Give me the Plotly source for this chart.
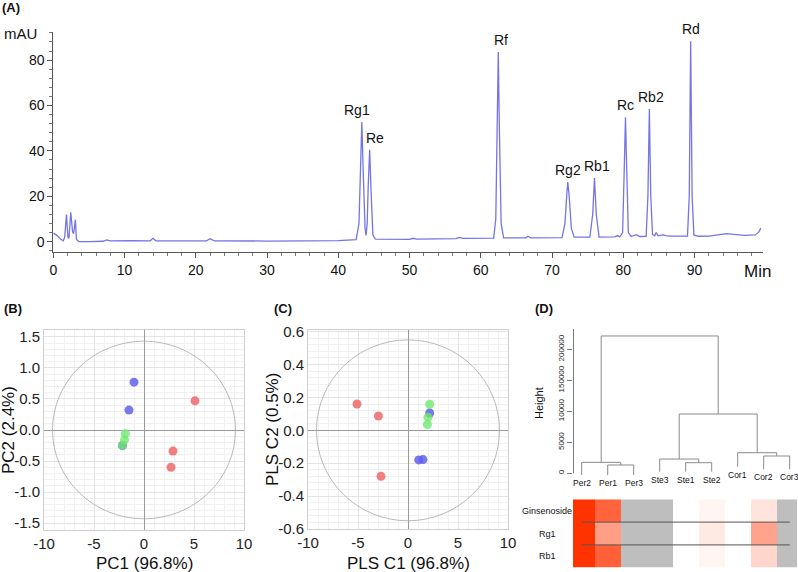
import plotly.graph_objects as go

W, H = 798, 572
def px_x(p): return p / W
def px_y(p): return 1 - p / H

FONT = "Arial, Liberation Sans, sans-serif"

# ---------------- (A) chromatogram ----------------
time_min = [0.0, 0.5, 1.0, 1.4, 1.6, 1.85, 2.05, 2.2, 2.45, 2.7, 2.85, 3.1, 3.25, 3.6, 5.0,
            7.0, 7.5, 8.0, 11.0, 13.6, 14.0, 14.4, 21.5, 22.0, 22.6, 30.0, 40.0, 42.5, 42.9,
            43.1, 43.3, 43.5, 43.75, 43.9, 44.05, 44.2, 44.4, 44.6, 44.85, 45.2, 50.0, 50.5,
            51.0, 56.5, 57.0, 57.5, 61.8, 62.1, 62.3, 62.45, 62.6, 62.85, 63.2, 66.3, 66.6,
            67.0, 71.4, 71.8, 72.05, 72.2, 72.4, 72.7, 73.1, 75.3, 75.7, 75.95, 76.2, 76.6,
            78.8, 79.2, 79.5, 79.9, 80.15, 80.3, 80.45, 80.7, 81.1, 81.8, 82.3, 83.2, 83.45,
            83.65, 83.85, 84.1, 84.4, 84.6, 84.9, 85.5, 86.0, 86.5, 89.0, 89.25, 89.45, 89.65,
            89.9, 90.5, 92.0, 94.5, 95.5, 97.0, 98.5, 99.0, 99.3]
absorbance = [3.8, 2.8, 1.2, 0.4, 2.0, 12.0, 2.0, 1.5, 13.0, 4.5, 3.5, 9.7, 1.0, 0.0, 0.0,
              0.2, 0.8, 0.4, 0.5, 0.4, 1.5, 0.4, 0.4, 1.3, 0.4, 0.3, 0.5, 0.9, 8.0,
              30.0, 52.7, 30.0, 6.0, 2.8, 8.0, 25.0, 40.5, 22.0, 3.0, 1.1, 1.0, 1.5,
              1.1, 1.4, 1.9, 1.5, 1.6, 10.0, 50.0, 83.5, 50.0, 8.0, 1.7, 1.7, 2.4,
              1.7, 1.8, 8.0, 20.0, 26.3, 20.0, 6.0, 2.0, 2.0, 12.0, 28.0, 12.0, 2.0,
              2.1, 2.7, 2.1, 4.0, 35.0, 54.8, 35.0, 4.0, 2.3, 3.1, 2.3, 2.4, 20.0,
              58.4, 20.0, 3.2, 2.6, 4.0, 2.6, 3.0, 2.7, 2.5, 2.5, 20.0, 88.3, 20.0,
              3.0, 2.4, 2.5, 3.6, 3.2, 2.8, 3.0, 4.2, 6.0]
peak_names = ["Rg1", "Re", "Rf", "Rg2", "Rb1", "Rc", "Rb2", "Rd"]
peak_times = [43.3, 44.4, 62.45, 72.2, 75.95, 80.3, 83.65, 89.45]
peak_heights = [52.7, 40.5, 83.5, 26.3, 28.0, 54.8, 58.4, 88.3]
a_xticks = [0, 10, 20, 30, 40, 50, 60, 70, 80, 90]
a_yticks = [0, 20, 40, 60, 80]

# ---------------- (B) PCA scores ----------------
pc1_red = [5.1, 2.9, 2.7]
pc2_red = [0.47, -0.34, -0.60]
pc1_blue = [-1.0, -1.5, -2.15]
pc2_blue = [0.77, 0.32, -0.25]
pc1_green = [-1.87, -1.95, -2.15]
pc2_green = [-0.06, -0.16, -0.25]
pca_ellipse = [9.15, 1.43]

# ---------------- (C) PLS scores ----------------
pls1_red = [-5.1, -2.96, -2.7]
pls2_red = [0.16, 0.087, -0.28]
pls1_blue = [1.07, 1.5, 2.17]
pls2_blue = [-0.18, -0.178, 0.105]
pls1_green = [2.17, 2.0, 1.94]
pls2_green = [0.158, 0.08, 0.035]
pls_ellipse = [9.15, 0.55]

# ---------------- (D) dendrogram + heatmap ----------------
leaf_labels = ["Per2", "Per1", "Per3", "Ste3", "Ste1", "Ste2", "Cor1", "Cor2", "Cor3"]
leaf_base = [-2700, -2700, -2700, 2600, 2600, 2600, 10600, 6500, 6500]
# merges: (child_a, child_b, height); leaves are 0..8, merge k is node 9+k
merges = [(1, 2, 13400), (0, 9, 17700), (4, 5, 17100), (3, 11, 23000),
          (7, 8, 27900), (6, 13, 33200), (12, 14, 95600), (10, 15, 221500)]
height_ticks = [0, 50000, 100000, 150000, 200000]
height_ticktext = ["0", "5000", "10000", "150000", "200000"]
heat_rows = ["Ginsenoside", "Rg1", "Rb1"]
heat_values = [
    [1.0, 0.76, None, None, 0.0, 0.05, 0.0, 0.13, None],
    [1.0, 0.48, None, None, 0.0, 0.11, 0.0, 0.45, None],
    [1.0, 0.78, None, None, 0.0, 0.05, 0.0, 0.20, None],
]

fig = go.Figure()

# ---- A ----
fig.add_trace(go.Scatter(x=time_min, y=absorbance, mode="lines",
                         line=dict(color="#7474e4", width=1.3),
                         xaxis="x", yaxis="y", showlegend=False, hoverinfo="skip"))

# ---- B / C ----
RED, BLUE, GREEN = "rgba(238,104,104,0.85)", "rgba(96,96,236,0.85)", "rgba(110,232,110,0.8)"
for xs, ys, c in [(pc1_red, pc2_red, RED), (pc1_blue, pc2_blue, BLUE), (pc1_green, pc2_green, GREEN)]:
    fig.add_trace(go.Scatter(x=xs, y=ys, mode="markers", xaxis="x2", yaxis="y2",
                             marker=dict(size=9, color=c, line=dict(width=0)),
                             showlegend=False, hoverinfo="skip"))
for xs, ys, c in [(pls1_red, pls2_red, RED), (pls1_blue, pls2_blue, BLUE), (pls1_green, pls2_green, GREEN)]:
    fig.add_trace(go.Scatter(x=xs, y=ys, mode="markers", xaxis="x3", yaxis="y3",
                             marker=dict(size=9, color=c, line=dict(width=0)),
                             showlegend=False, hoverinfo="skip"))

# ---- D dendrogram ----
node_x = {i: i + 1 for i in range(len(leaf_labels))}
node_y = {i: leaf_base[i] for i in range(len(leaf_labels))}
dx, dy = [], []
for k, (a, b, h) in enumerate(merges):
    xa, xb = node_x[a], node_x[b]
    dx += [xa, xa, xb, xb, None]
    dy += [node_y[a], h, h, node_y[b], None]
    node_x[9 + k] = (xa + xb) / 2
    node_y[9 + k] = h
fig.add_trace(go.Scatter(x=dx, y=dy, mode="lines", line=dict(color="#8a8a8a", width=1),
                         xaxis="x4", yaxis="y4", showlegend=False, hoverinfo="skip"))

# ---- D heatmap ----
cols = list(range(1, len(leaf_labels) + 1))
na_mask = [[1 if v is None else None for v in row] for row in heat_values]
fig.add_trace(go.Heatmap(z=na_mask, x=cols, y=[0, 1, 2], xaxis="x5", yaxis="y5",
                         colorscale=[[0, "#bebebe"], [1, "#bebebe"]], showscale=False,
                         hoverinfo="skip"))
fig.add_trace(go.Heatmap(z=heat_values, x=cols, y=[0, 1, 2], xaxis="x5", yaxis="y5",
                         colorscale=[[0, "#ffffff"], [1, "#ff3300"]], zmin=0, zmax=1,
                         showscale=False, hoverinfo="skip"))

ann = []
shapes = []

def pann(text, x, y, size, angle=0):
    return dict(x=px_x(x), y=px_y(y), xref="paper", yref="paper", text=text,
                xanchor="center", yanchor="middle", textangle=angle, showarrow=False,
                font=dict(size=size, color="#111"))

# peak labels
for n, t, h in zip(peak_names, peak_times, peak_heights):
    xs = {"Rg1": -5, "Re": 5, "Rf": 3, "Rb1": 3, "Rb2": 2}.get(n, 0)
    ann.append(dict(x=t, y=h, xref="x", yref="y", text=n, showarrow=False,
                    xanchor="center", yanchor="middle", yshift=12, xshift=xs,
                    font=dict(size=14, color="#111")))

# panel letters
for txt, x, y in [("(A)", 11, 8), ("(B)", 13, 308), ("(C)", 283, 308), ("(D)", 544, 308)]:
    ann.append(pann(f"<b>{txt}</b>", x, y, 13))
ann.append(pann("mAU", 20, 33, 15))
ann.append(pann("Min", 757, 271, 17))

# axis titles B/C/D
ann += [
    pann("PC1 (96.8%)", 144, 563, 17),
    pann("PC2 (2.4%)", 8, 430, 17, -90),
    pann("PLS C1 (96.8%)", 408, 563, 17),
    pann("PLS C2 (0.5%)", 272, 430, 17, -90),
    pann("Height", 539, 403, 11, -90),
]

# leaf labels
for i, lab in enumerate(leaf_labels):
    ann.append(dict(x=i + 1, y=leaf_base[i], xref="x4", yref="y4", text=lab, showarrow=False,
                    xanchor="center", yanchor="top", yshift=-1, font=dict(size=8.5, color="#111")))
# heat row labels
for r, lab in enumerate(heat_rows):
    ann.append(dict(x=px_x(547), y=r, xref="paper", yref="y5", text=lab, showarrow=False,
                    xanchor="center", yanchor="middle", font=dict(size=9, color="#111")))

# ellipses
for (rx, ry), xr, yr in [(pca_ellipse, "x2", "y2"), (pls_ellipse, "x3", "y3")]:
    shapes.append(dict(type="circle", xref=xr, yref=yr, x0=-rx, x1=rx, y0=-ry, y1=ry,
                       line=dict(color="#a8a8a8", width=0.8), layer="above"))
# dendrogram axis line
shapes.append(dict(type="line", xref="paper", yref="y4", x0=px_x(573.5), x1=px_x(573.5),
                   y0=0, y1=232700, line=dict(color="#777", width=1)))
# heatmap separators
for yv in [0.5, 1.5]:
    shapes.append(dict(type="line", xref="x5", yref="y5", x0=1, x1=9, y0=yv, y1=yv,
                       line=dict(color="#555", width=1)))

axA = dict(showline=True, linecolor="#555", linewidth=1, ticks="outside", ticklen=5,
           tickcolor="#555", tickfont=dict(size=14, color="#111"), showgrid=False,
           zeroline=False, automargin=False)

def scat_axes(rng, minor, domain, anchor, tick_vals, tick_text):
    return dict(range=rng, domain=domain, anchor=anchor, showline=True, mirror=True,
                linecolor="#cfcfcf", linewidth=1, showgrid=True, gridcolor="#e4e4e4",
                tickvals=tick_vals, ticktext=tick_text,
                minor=dict(dtick=minor, showgrid=True, gridcolor="#f1f1f1"),
                zeroline=True, zerolinecolor="#9a9a9a", zerolinewidth=1,
                ticks="", tickfont=dict(size=15, color="#222"), automargin=False)

xB = [-10, -5, 0, 5, 10]
yB = [-1.5, -1.0, -0.5, 0.0, 0.5, 1.0, 1.5]
yC = [-0.6, -0.4, -0.2, 0.0, 0.2, 0.4, 0.6]
xB_txt = [str(v) for v in xB]
yB_txt = [f"{v:.1f}" for v in yB]
yC_txt = [f"{v:.1f}" for v in yC]

x2 = scat_axes([-10, 10], 1, [px_x(44), px_x(244)], "y2", xB, xB_txt)
y2 = scat_axes([-1.61, 1.61], 0.1, [px_y(530), px_y(330)], "x2", yB, yB_txt)
x3 = scat_axes([-10, 10], 1, [px_x(308), px_x(508)], "y3", xB, xB_txt)
y3 = scat_axes([-0.6, 0.61], 0.04, [px_y(529), px_y(330)], "x3", yC, yC_txt)

v_bot = (473.3 - 490) / 31 * 50000
v_top = (473.3 - 329) / 31 * 50000

fig.update_layout(
    width=W, height=H, autosize=False, margin=dict(l=0, r=0, t=0, b=0, pad=0),
    paper_bgcolor="white", plot_bgcolor="white", font=dict(family=FONT, color="#111"),
    showlegend=False,
    xaxis=dict(axA, range=[0, 99.6], domain=[px_x(53.3), px_x(763)], anchor="y",
               tickvals=a_xticks, minor=dict(dtick=2, ticks="outside", ticklen=3, tickcolor="#777")),
    yaxis=dict(axA, range=[-4.4, 92.5], domain=[px_y(251.7), px_y(31.7)], anchor="x",
               tickvals=a_yticks, minor=dict(dtick=4, ticks="outside", ticklen=3, tickcolor="#777")),
    xaxis2=x2, yaxis2=y2, xaxis3=x3, yaxis3=y3,
    xaxis4=dict(range=[0.665, 9.281], domain=[px_x(573), px_x(797)], anchor="y4",
                visible=False, automargin=False),
    yaxis4=dict(range=[v_bot, v_top], domain=[px_y(490), px_y(329)], anchor="x4",
                showline=False, showgrid=False, zeroline=False, ticks="outside", ticklen=5,
                tickcolor="#777", tickvals=height_ticks, ticktext=height_ticktext,
                tickangle=-90, tickfont=dict(size=8, color="#222"), automargin=False),
    xaxis5=dict(range=[0.665, 9.281], domain=[px_x(573), px_x(797)], anchor="y5",
                visible=False, automargin=False),
    yaxis5=dict(range=[2.5, -0.5], domain=[px_y(567.7), px_y(499.3)], anchor="x5",
                visible=False, automargin=False),
    annotations=ann, shapes=shapes,
)

fig.write_html("out.html", config={"displayModeBar": False},
               post_script="document.body.style.margin='0';document.body.style.padding='0';")
